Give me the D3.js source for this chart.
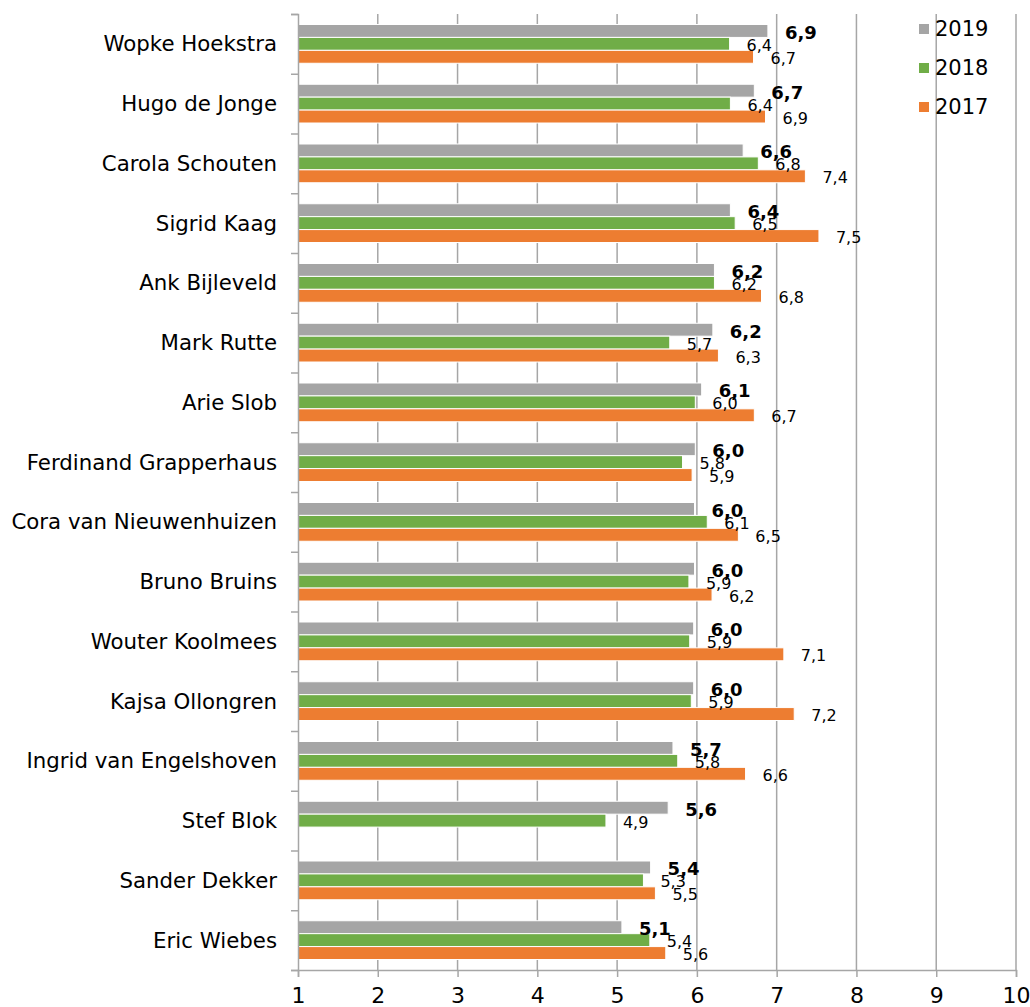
<!DOCTYPE html>
<html>
<head>
<meta charset="utf-8">
<script src="https://cdn.jsdelivr.net/npm/d3@7"></script>
<style>
  body { margin: 0; background: #fff; }
  svg text { font-family: Verdana, "DejaVu Sans", sans-serif; fill: #000; }
</style>
</head>
<body>
<div id="viz"></div>
<script>

var names = ["Wopke Hoekstra", "Hugo de Jonge", "Carola Schouten", "Sigrid Kaag", "Ank Bijleveld",
	"Mark Rutte", "Arie Slob", "Ferdinand Grapperhaus", "Cora van Nieuwenhuizen", "Bruno Bruins",
	"Wouter Koolmees", "Kajsa Ollongren", "Ingrid van Engelshoven", "Stef Blok", "Sander Dekker", "Eric Wiebes"];

var years = ["2019", "2018", "2017"];

var v2019 = [6.89, 6.72, 6.58, 6.42, 6.22, 6.20, 6.06, 5.98, 5.97, 5.97, 5.96, 5.96, 5.70, 5.64, 5.42, 5.06];
var v2018 = [6.41, 6.42, 6.77, 6.48, 6.22, 5.66, 5.98, 5.82, 6.13, 5.90, 5.91, 5.93, 5.76, 4.86, 5.33, 5.41];
var v2017 = [6.71, 6.86, 7.36, 7.53, 6.81, 6.27, 6.72, 5.94, 6.52, 6.19, 7.09, 7.22, 6.61, null, 5.48, 5.61];

var xTicks = [1, 2, 3, 4, 5, 6, 7, 8, 9, 10];

var colors = {"2019": "#a5a5a5", "2018": "#70ad47", "2017": "#ed7d31"};
var series = {"2019": v2019, "2018": v2018, "2017": v2017};

var width = 1030, height = 1007;
var plotLeft = 298, plotRight = 1016, plotTop = 14, plotBottom = 970;

var svg = d3.select("#viz").append("svg")
	.attr("width", width)
	.attr("height", height);

var x = d3.scaleLinear().domain([1, 10]).range([plotLeft, plotRight]);
var y = d3.scaleBand().domain(names).range([plotTop, plotBottom]);
var yInner = d3.scaleBand().domain(years).range([10.5, y.bandwidth() - 10.5]);

// gridlines
svg.selectAll("line.grid")
	.data(xTicks.slice(1))
	.enter()
	.append("line")
	.attr("class", "grid")
	.attr("x1", d => x(d)).attr("x2", d => x(d))
	.attr("y1", plotTop).attr("y2", plotBottom)
	.attr("stroke", "#a6a6a6")
	.attr("stroke-width", 1.5);

// bars
years.forEach(yr => {
	var rows = names.map((n, i) => ({name: n, v: series[yr][i]})).filter(d => d.v != null);

	svg.selectAll("rect.b" + yr)
		.data(rows)
		.enter()
		.append("rect")
		.attr("class", "b" + yr)
		.attr("x", x(1))
		.attr("y", d => y(d.name) + yInner(yr))
		.attr("width", d => x(d.v) - x(1))
		.attr("height", yInner.bandwidth())
		.attr("fill", colors[yr])
		.attr("stroke", "#fff")
		.attr("stroke-width", 1);
});

// axes
var xAxis = svg.append("g")
	.attr("transform", "translate(0," + plotBottom + ")")
	.call(d3.axisBottom(x).tickValues(xTicks).tickSize(7).tickPadding(10).tickFormat(d3.format("d")));
xAxis.select(".domain").attr("stroke", "#a6a6a6").attr("stroke-width", 1.5);
xAxis.selectAll(".tick line").attr("stroke", "#a6a6a6").attr("stroke-width", 1.5);
xAxis.selectAll(".tick text")
	.attr("font-size", "22px")
	.attr("font-family", "Verdana, 'DejaVu Sans', sans-serif")
	.attr("fill", "#000");

var yEdge = d3.scaleLinear().domain([0, names.length]).range([plotTop, plotBottom]);
var yAxis = svg.append("g")
	.attr("transform", "translate(" + plotLeft + ",0)")
	.call(d3.axisLeft(yEdge).tickValues(d3.range(names.length + 1)).tickSize(7).tickFormat(""));
yAxis.select(".domain").attr("stroke", "#a6a6a6").attr("stroke-width", 1.5);
yAxis.selectAll(".tick line").attr("stroke", "#a6a6a6").attr("stroke-width", 1.5);

// category labels
svg.selectAll("text.cat")
	.data(names)
	.enter()
	.append("text")
	.attr("class", "cat")
	.attr("x", 277)
	.attr("y", d => y(d) + y.bandwidth() / 2)
	.attr("dy", "0.35em")
	.attr("text-anchor", "end")
	.attr("font-size", "21.3px")
	.text(d => d);

// data labels
var fmt = v => v.toFixed(1).replace(".", ",");
years.forEach(yr => {
	var rows = names.map((n, i) => ({name: n, v: series[yr][i]})).filter(d => d.v != null);
	svg.selectAll("text.l" + yr)
		.data(rows)
		.enter()
		.append("text")
		.attr("class", "l" + yr)
		.attr("x", d => x(d.v) + 17)
		.attr("y", d => y(d.name) + yInner(yr) + yInner.bandwidth() / 2 + 1.5)
		.attr("dy", "0.35em")
		.attr("font-size", yr == "2019" ? "18px" : "16px")
		.attr("font-weight", yr == "2019" ? "bold" : "normal")
		.text(d => fmt(d.v));
});

// legend
var legend = svg.selectAll("g.legend")
	.data(years)
	.enter()
	.append("g")
	.attr("class", "legend")
	.attr("transform", (d, i) => "translate(919," + (29 + i * 39) + ")");
legend.append("rect")
	.attr("x", 0).attr("y", -5)
	.attr("width", 10).attr("height", 10)
	.attr("fill", d => colors[d]);
legend.append("text")
	.attr("x", 16)
	.attr("dy", "0.35em")
	.attr("font-size", "21px")
	.text(d => d);

</script>
</body>
</html>
